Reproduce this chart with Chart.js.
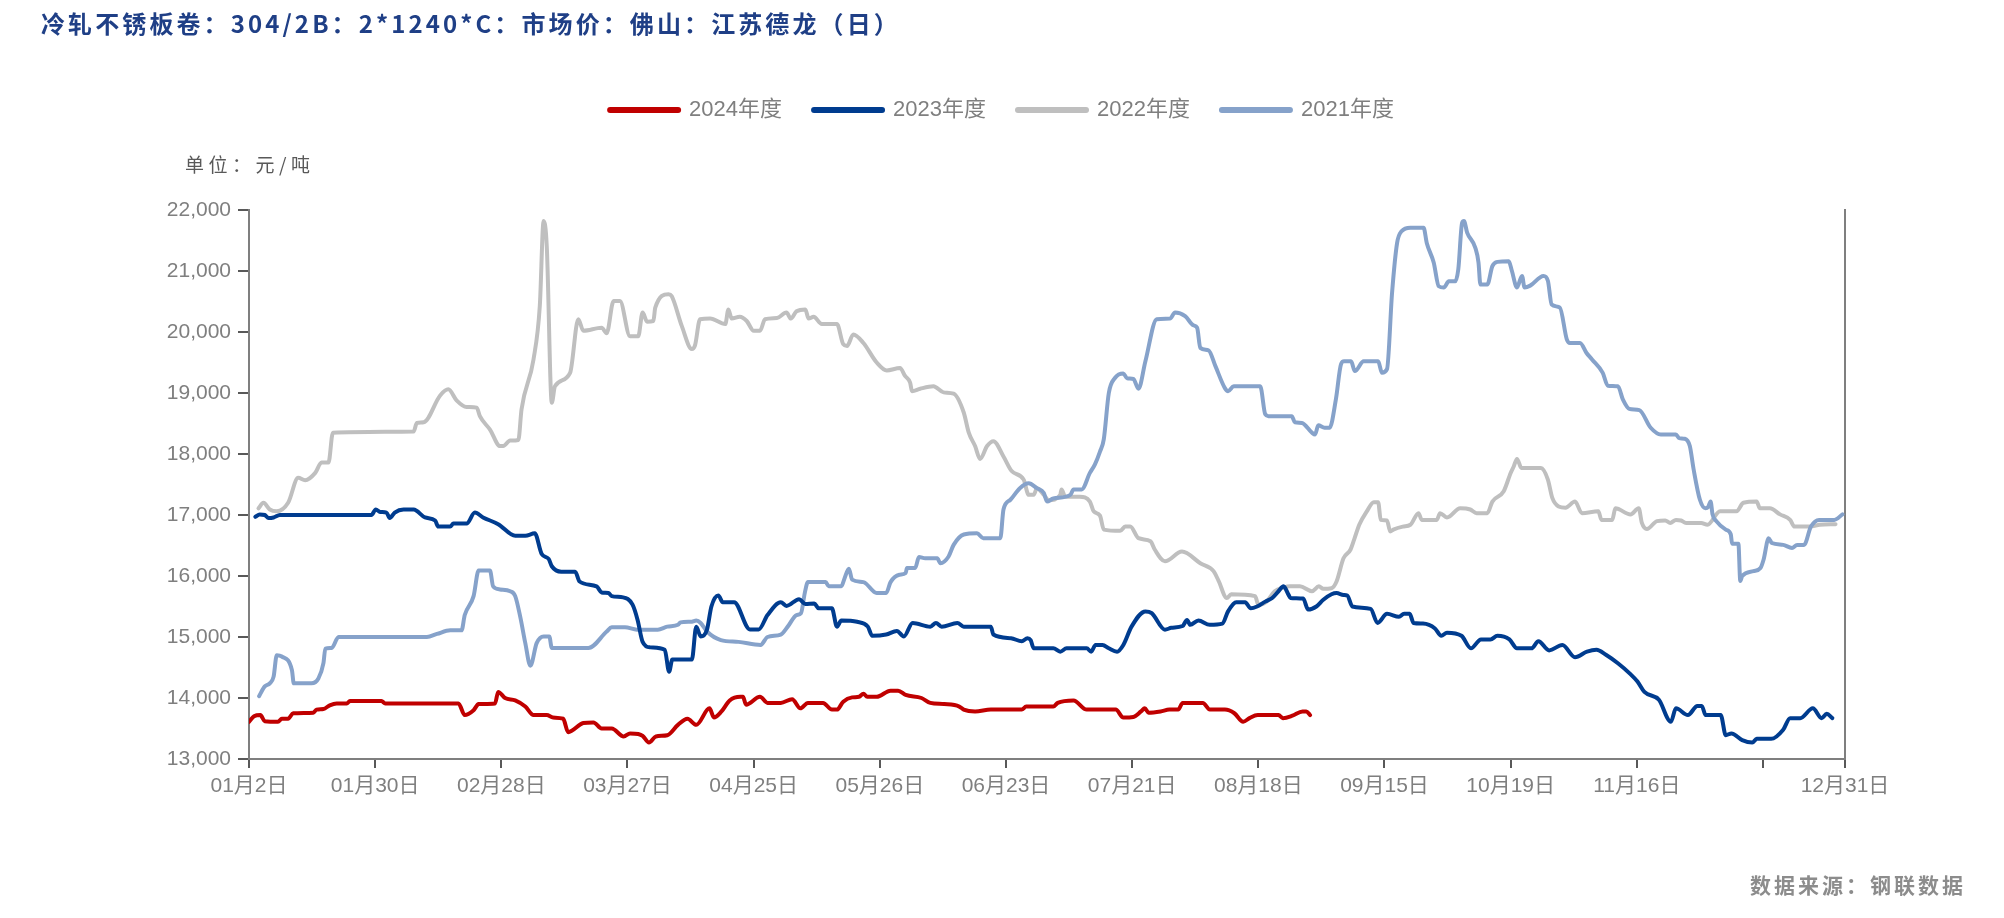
<!DOCTYPE html>
<html><head><meta charset="utf-8">
<script src="https://cdn.jsdelivr.net/npm/chart.js@4.4.1/dist/chart.umd.min.js"></script>
<style>html,body{margin:0;padding:0;background:#fff;}canvas{display:block;}</style>
</head><body>
<canvas id="c" width="2004" height="918"></canvas>
<script>
const titleText = '冷轧不锈板卷：304/2B：2*1240*C：市场价：佛山：江苏德龙（日）';
const unitText = '单位：元/吨';
const sourceText = '数据来源：钢联数据';
const seriesNames = ['2024年度', '2023年度', '2022年度', '2021年度'];

// x = trading-day index (0 = 01月2日, 253 = 12月31日)
const tickIdx = [0, 20, 40, 60, 80, 100, 120, 140, 160, 180, 200, 220, 240, 253];
const tickLabels = ['01月2日','01月30日','02月28日','03月27日','04月25日','05月26日','06月23日','07月21日','08月18日','09月15日','10月19日','11月16日','','12月31日'];
const yTicks = [13000, 22000, 1000]; // min, max, step

const s2024 = [[0,13610],[0.8,13700],[1.8,13720],[2.5,13620],[4.6,13610],[5.2,13660],[6.2,13660],[7,13750],[10.2,13760],[10.7,13810],[11.8,13820],[12.8,13880],[13.9,13910],[15.5,13910],[16,13950],[21,13950],[21.6,13910],[33.2,13910],[34.2,13720],[35.6,13800],[36.4,13900],[39,13910],[39.5,14100],[40.6,14000],[42.2,13960],[43.8,13860],[45.1,13720],[47.2,13720],[48.2,13680],[49.8,13660],[50.6,13440],[53,13590],[54.6,13600],[55.9,13500],[57.5,13500],[59.4,13370],[60.4,13420],[61.7,13410],[62.4,13380],[63.4,13270],[64.5,13370],[66.3,13390],[68,13560],[69.5,13660],[70.9,13560],[73,13830],[73.7,13680],[74.9,13780],[76.2,13960],[77.9,14020],[78.3,14020],[78.8,13890],[81,14020],[82.2,13920],[84.3,13920],[86.1,13980],[87.4,13830],[88.6,13920],[91,13920],[92.4,13810],[93.2,13810],[94.2,13940],[95.6,14010],[96.7,14020],[97.4,14070],[98,14020],[99.5,14020],[101.7,14120],[102.9,14120],[104.1,14050],[106.6,14000],[108,13920],[110.2,13900],[112.6,13860],[113.3,13810],[115.1,13780],[117.6,13810],[122.5,13810],[123.2,13860],[127.5,13860],[128.2,13920],[130.7,13960],[132.8,13810],[137.4,13810],[138.6,13680],[140.2,13690],[141.4,13780],[142,13830],[142.6,13760],[144.5,13780],[145.9,13810],[147.3,13810],[148,13920],[151.2,13920],[152.3,13810],[154.7,13810],[156.2,13750],[157.6,13610],[158.6,13670],[159.9,13720],[163.2,13720],[163.9,13670],[165.4,13710],[167,13780],[167.6,13780],[168.2,13720]];

const s2023 = [[1,16970],[1.7,17010],[2.5,17000],[3.1,16950],[3.9,16960],[4.9,17000],[19.4,17000],[20.1,17090],[20.8,17050],[21.8,17040],[22.3,16950],[23.1,17040],[24.5,17090],[26.1,17090],[27.9,16960],[29.5,16910],[30,16810],[31.9,16810],[32.4,16860],[34.5,16860],[35.8,17040],[37.1,16960],[39.5,16850],[42.2,16660],[43.8,16660],[45.3,16700],[46.4,16360],[47.5,16280],[48,16160],[49.5,16070],[51.7,16070],[52.4,15910],[55.1,15830],[55.9,15730],[57,15720],[57.5,15670],[59.3,15650],[60.8,15530],[61.6,15280],[62.4,14920],[63.6,14830],[65.9,14790],[66.6,14430],[67.1,14630],[70.2,14630],[70.9,15170],[71.6,15010],[72.6,15120],[73.3,15500],[74.4,15680],[75.1,15570],[76.9,15570],[79.4,15125],[80.8,15125],[82.2,15360],[84.3,15570],[85.2,15510],[87.2,15620],[88.2,15540],[89.6,15550],[90.3,15470],[92.4,15470],[93.2,15170],[93.9,15270],[96.4,15250],[98.1,15170],[98.8,15020],[101,15040],[102.7,15100],[103.8,15010],[105.2,15230],[108,15170],[108.9,15230],[109.8,15170],[112.3,15230],[113.3,15170],[117.6,15170],[118,15040],[120.8,14980],[122.5,14930],[123.4,14980],[123.9,14950],[124.4,14815],[127.5,14815],[128.6,14760],[129.6,14815],[132.8,14815],[133.5,14760],[134.2,14870],[135.3,14870],[136.3,14815],[137.6,14760],[138.6,14870],[139.9,15170],[142.1,15420],[143.1,15390],[145.2,15120],[146.2,15150],[148,15180],[148.7,15280],[149.2,15200],[150.5,15270],[152.3,15200],[154.3,15220],[155.2,15420],[156.5,15570],[157.9,15570],[158.8,15470],[159.8,15500],[161.1,15580],[162.2,15640],[163.2,15750],[164,15830],[164.8,15690],[165.1,15640],[167.1,15630],[167.9,15450],[169.2,15500],[170.3,15610],[171.6,15700],[172.4,15720],[173.5,15690],[174.1,15680],[174.9,15500],[177.8,15460],[178.9,15230],[180.4,15380],[182.3,15330],[183.1,15380],[184,15380],[184.6,15230],[186.1,15220],[188,15140],[189,15020],[189.9,15070],[192.2,15020],[193.7,14815],[195.3,14960],[196.8,14960],[197.9,15020],[199.8,14960],[201,14815],[203.3,14815],[204.4,14930],[206.1,14780],[208.2,14870],[210.2,14670],[212.1,14760],[213.6,14790],[215.1,14710],[217,14570],[218.9,14400],[220.1,14270],[221.2,14100],[223.5,13970],[225.4,13610],[226.2,13830],[228.1,13720],[229.6,13870],[230.3,13870],[230.9,13720],[233.3,13720],[234.1,13390],[235,13420],[236.7,13310],[238.3,13270],[239,13330],[241.3,13330],[243.2,13480],[244.3,13670],[245.9,13670],[247.9,13830],[249.3,13670],[250.1,13740],[251,13670]];

const s2022 = [[1.5,17110],[2.3,17200],[3.3,17090],[4.4,17060],[6.2,17200],[7.8,17610],[8.9,17570],[10.5,17690],[11.5,17860],[12.6,17860],[13.3,18350],[26.1,18370],[26.6,18510],[27.7,18520],[30.3,18960],[31.6,19060],[32.9,18880],[34.5,18770],[36.1,18760],[36.6,18620],[38.2,18400],[39.8,18130],[40.3,18130],[41.4,18220],[42.7,18230],[43.2,18730],[45.1,19550],[46.1,20430],[46.7,21820],[47.2,21410],[48,18840],[48.5,19110],[50.9,19330],[52.2,20210],[53,20020],[55.9,20070],[56.7,19980],[57.8,20510],[58.8,20510],[60.4,19930],[61.7,19930],[62.4,20320],[63.1,20170],[64.1,20180],[64.4,20400],[66.5,20620],[67,20590],[68.6,20100],[70.2,19720],[70.7,19780],[71.5,20210],[73.1,20220],[75.5,20130],[76,20370],[76.5,20220],[77.8,20250],[78.9,20180],[80,20020],[81,20020],[81.8,20210],[83.7,20230],[85.2,20320],[85.9,20220],[86.8,20340],[88.2,20370],[88.7,20220],[89.5,20250],[90.8,20130],[93.2,20130],[94.2,19800],[94.8,19770],[95.8,19960],[97.4,19820],[99.5,19500],[101.1,19370],[103.2,19410],[104,19280],[104.8,19170],[105.1,19030],[106.4,19070],[108.5,19110],[110.1,19010],[111.7,18990],[113.3,18680],[114.1,18350],[115.1,18130],[115.9,17920],[117,18130],[118,18210],[119.6,17960],[120.9,17720],[122.8,17580],[123.6,17330],[124.4,17330],[124.9,17440],[126,17330],[126.8,17240],[128.6,17330],[128.8,17420],[129.4,17300],[131.7,17300],[133.3,17220],[133.9,17060],[134.9,16990],[135.5,16760],[138.1,16740],[138.9,16810],[139.7,16810],[141,16620],[142.9,16570],[143.6,16430],[145.2,16240],[147.9,16400],[150.8,16210],[152.9,16080],[153.7,15920],[155,15640],[155.7,15700],[159.5,15670],[160,15530],[161.3,15580],[162.6,15750],[164,15810],[165,15830],[166.6,15830],[168.5,15750],[169.6,15830],[170.3,15790],[171.6,15800],[172.4,15910],[173.5,16290],[174.6,16430],[175.2,16600],[176,16840],[177.2,17060],[178.3,17210],[179,17210],[179.4,16920],[180.4,16910],[180.9,16730],[181.4,16760],[182.9,16810],[184.1,16840],[185.4,17030],[185.9,16920],[188.3,16920],[188.8,17030],[189.9,16960],[192,17110],[193.6,17090],[194.6,17030],[196.3,17030],[197.1,17220],[198.9,17390],[200,17690],[200.5,17800],[201,17920],[201.7,17770],[204.8,17770],[205.9,17580],[206.6,17280],[207.6,17140],[208.7,17120],[210.2,17220],[211.3,17030],[213.9,17060],[214.4,16920],[216.1,16920],[216.6,17110],[219,17010],[220.3,17110],[220.8,16870],[221.6,16770],[223.2,16900],[224.5,16910],[225.3,16870],[226.2,16920],[227,16910],[227.8,16870],[230.2,16870],[231.2,16840],[233.2,17060],[235.8,17060],[236.9,17200],[239,17220],[239.5,17110],[241.1,17110],[242.7,17010],[244.3,16920],[245,16810],[247.5,16810],[249,16840],[251.5,16850]];

const s2021 = [[1.6,14030],[2.5,14190],[3.3,14240],[3.9,14350],[4.4,14700],[5.2,14680],[6.8,14460],[7.1,14240],[9.9,14240],[11,14320],[11.8,14570],[12.1,14810],[13.1,14820],[14.2,15000],[28.2,15000],[29.8,15050],[31.9,15110],[33.7,15110],[34.2,15360],[35.6,15670],[36.4,16090],[38.2,16090],[38.7,15830],[39.8,15780],[41.4,15750],[42.2,15670],[43,15330],[43.8,14900],[44.6,14530],[45.6,14900],[46.7,15010],[47.6,15010],[48,14820],[53.8,14820],[56.7,15090],[57.5,15160],[59.6,15160],[61.5,15120],[64.8,15120],[66.3,15170],[68,15200],[68.4,15240],[70.2,15250],[70.9,15270],[71.6,15230],[72.6,15090],[74.8,14950],[77.6,14920],[81.1,14870],[82.2,15000],[84.3,15040],[85.4,15170],[86.8,15360],[87.5,15390],[88.1,15720],[88.6,15900],[91.4,15900],[91.9,15830],[93.9,15830],[94.4,15960],[95.1,16120],[95.6,15940],[97.4,15900],[99.5,15720],[101,15720],[101.7,15900],[103.1,16020],[104.1,16050],[104.3,16130],[105.6,16130],[106.2,16310],[107.2,16290],[109.1,16290],[109.6,16210],[110.9,16320],[111.7,16510],[113.3,16680],[115.4,16700],[116.4,16620],[119.1,16620],[119.6,17090],[120.7,17250],[122.2,17440],[123.6,17520],[124.9,17440],[126,17360],[126.5,17220],[127.5,17270],[130.2,17330],[130.7,17420],[132,17420],[133.3,17690],[134.1,17830],[134.9,18040],[135.5,18240],[136.3,19000],[137.3,19250],[138.6,19320],[139.2,19240],[140.2,19230],[141,19070],[142.1,19520],[143.9,20210],[146,20220],[146.8,20320],[148.4,20260],[149.7,20110],[150.3,20070],[150.8,19740],[152.1,19700],[153.2,19440],[154.7,19080],[155.2,19030],[156.1,19110],[160.3,19110],[161.1,18650],[161.6,18620],[165.3,18620],[165.8,18520],[166.9,18510],[168.5,18350],[169,18320],[169.5,18470],[170.5,18430],[171.3,18430],[172.3,18900],[173.1,19470],[173.6,19520],[174.7,19520],[175.3,19360],[176.7,19520],[179,19520],[179.6,19330],[180.4,19390],[181.2,20640],[182,21460],[182.7,21650],[184.1,21710],[186.2,21710],[186.7,21460],[187.8,21140],[188.6,20750],[189.4,20730],[190.2,20830],[191.2,20830],[191.7,21030],[192.3,21790],[192.6,21820],[193.1,21630],[194.4,21380],[194.9,21140],[195.2,20780],[196.3,20780],[197.1,21080],[197.9,21150],[199.7,21160],[200.2,21000],[201,20730],[201.8,20920],[202.2,20730],[203.1,20760],[205.2,20920],[205.9,20840],[206.5,20450],[207.8,20400],[208.9,19880],[209.4,19820],[211,19820],[212,19660],[212.9,19550],[214.6,19330],[215.4,19120],[217,19110],[217.8,18890],[218.8,18740],[220.4,18720],[222.2,18430],[223.8,18320],[226.2,18320],[226.7,18260],[227.6,18250],[228.4,18130],[229,17750],[230,17250],[230.9,17110],[231.3,17130],[231.7,17220],[232,17010],[232.6,16900],[234.1,16760],[234.9,16680],[235.1,16530],[236.1,16530],[236.4,15920],[236.7,16000],[238.5,16080],[239.6,16130],[240.1,16270],[240.9,16620],[241.4,16540],[243.2,16510],[244.6,16460],[245.4,16510],[246.5,16510],[247.6,16810],[248.9,16920],[251.3,16920],[252.6,17010]];

const FONT_NUM = '"Liberation Sans", "Noto Sans CJK SC", sans-serif';
const FONT_CJK = '"Noto Sans CJK SC", sans-serif';

function mk(label, pts, color, order) {
  return {
    label, order,
    data: pts.map(p => ({x: p[0], y: p[1]})),
    borderColor: color, backgroundColor: color,
    borderWidth: 4, pointRadius: 0, pointHoverRadius: 0,
    cubicInterpolationMode: 'monotone',
    borderCapStyle: 'round', borderJoinStyle: 'round', fill: false
  };
}

const legendGap = {
  id: 'legendGap',
  afterInit(chart) {
    const lg = chart.legend;
    if (!lg) return;
    const f = lg.fit;
    lg.fit = function () { f.call(this); this.height += 79; };
  }
};

const texts = {
  id: 'texts',
  afterDraw(chart) {
    const c = chart.ctx;
    c.save();
    c.textBaseline = 'middle';
    c.textAlign = 'left';
    c.font = 'bold 24px ' + FONT_CJK;
    c.fillStyle = '#1F3F86';
    c.letterSpacing = '3.1px';
    c.fillText(titleText, 41, 24);
    c.font = '19px ' + FONT_CJK;
    c.fillStyle = '#595959';
    c.letterSpacing = '4.5px';
    c.fillText(unitText, 185, 165);
    c.font = 'bold 21px ' + FONT_CJK;
    c.fillStyle = '#8c8c8c';
    c.letterSpacing = '3px';
    c.textAlign = 'right';
    c.fillText(sourceText, 1966, 885);
    c.restore();
  }
};

new Chart(document.getElementById('c'), {
  type: 'line',
  data: {
    datasets: [
      mk(seriesNames[0], s2024, '#C00000', 0),
      mk(seriesNames[1], s2023, '#003C8F', 1),
      mk(seriesNames[2], s2022, '#BFBFBF', 3),
      mk(seriesNames[3], s2021, '#86A2CA', 2)
    ]
  },
  options: {
    responsive: false, devicePixelRatio: 1, animation: false, events: [],
    layout: {padding: {top: 67, left: 159, right: 159, bottom: 109}},
    plugins: {
      title: {display: false},
      tooltip: {enabled: false},
      legend: {
        position: 'top', align: 'center',
        labels: {
          usePointStyle: true, pointStyle: 'line', pointStyleWidth: 68, boxHeight: 22,
          padding: 32, color: '#7f7f7f', font: {family: FONT_NUM, size: 22},
          sort: (a, b) => a.datasetIndex - b.datasetIndex,
          generateLabels: chart => Chart.defaults.plugins.legend.labels.generateLabels(chart)
            .map(it => Object.assign(it, {lineWidth: 6, lineCap: 'round', pointStyle: 'line'}))
        }
      }
    },
    scales: {
      x: {
        type: 'linear', min: tickIdx[0], max: tickIdx[tickIdx.length - 1],
        afterBuildTicks: s => { s.ticks = tickIdx.map(v => ({value: v})); },
        afterFit: s => { s.height = 50; },
        ticks: {
          autoSkip: false, maxRotation: 0, minRotation: 0, padding: 6,
          color: '#7f7f7f', font: {family: FONT_NUM, size: 21},
          callback: (v, i) => tickLabels[i]
        },
        grid: {drawOnChartArea: false, drawTicks: true, tickLength: 9, tickColor: '#595959', tickWidth: 2, color: '#595959', lineWidth: 2},
        border: {display: true, color: '#7f7f7f', width: 2}
      },
      y: {
        type: 'linear', position: 'left', min: yTicks[0], max: yTicks[1],
        afterFit: s => { s.width = 90; },
        ticks: {
          stepSize: yTicks[2], padding: 7, color: '#7f7f7f', font: {family: FONT_NUM, size: 21},
          callback: v => Number(v).toLocaleString('en-US')
        },
        grid: {drawOnChartArea: false, drawTicks: true, tickLength: 11, tickColor: '#595959', tickWidth: 2, color: '#595959', lineWidth: 2},
        border: {display: true, color: '#7f7f7f', width: 2}
      },
      y2: {
        type: 'linear', position: 'right', min: yTicks[0], max: yTicks[1],
        afterFit: s => { s.width = 0; },
        ticks: {display: false},
        grid: {display: false},
        border: {display: true, color: '#7f7f7f', width: 2}
      }
    }
  },
  plugins: [legendGap, texts]
});
</script>
</body></html>
